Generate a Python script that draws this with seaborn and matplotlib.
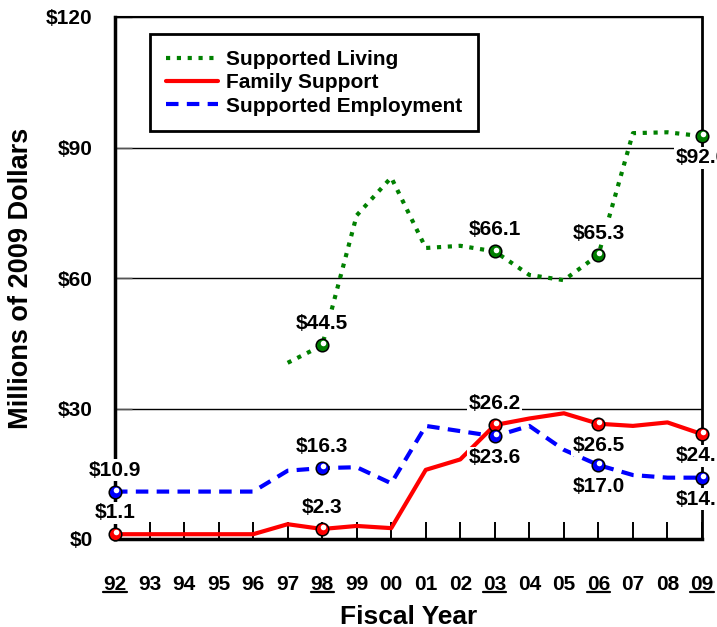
import matplotlib
matplotlib.use("Agg")
import matplotlib.pyplot as plt
import matplotlib.transforms as mtransforms
from matplotlib.lines import Line2D
import numpy as np
import pandas as pd
import seaborn as sns

# fiscal years shown on the x axis
years = ["92", "93", "94", "95", "96", "97", "98", "99", "00",
         "01", "02", "03", "04", "05", "06", "07", "08", "09"]
marked_years = ["92", "98", "03", "06", "09"]

# millions of 2009 dollars
supported_living = [np.nan, np.nan, np.nan, np.nan, np.nan, 40.5, 44.5, 74.4, 83.1,
                    66.9, 67.4, 66.1, 60.7, 59.5, 65.3, 93.3, 93.5, 92.6]
family_support = [1.1, 1.1, 1.1, 1.1, 1.1, 3.4, 2.3, 3.0, 2.5,
                  15.9, 18.3, 26.2, 27.7, 28.9, 26.5, 26.0, 26.8, 24.1]
supported_employment = [10.9, 10.9, 10.9, 10.9, 10.9, 15.7, 16.3, 16.5, 12.8,
                        26.0, 24.8, 23.6, 26.0, 20.5, 17.0, 14.7, 14.1, 14.1]

y_ticks = [0, 30, 60, 90, 120]

sns.set_style("white")
plt.rcParams["font.family"] = ["Liberation Sans", "DejaVu Sans"]
plt.rcParams["font.weight"] = "bold"
plt.rcParams["text.color"] = "black"
plt.rcParams["axes.labelcolor"] = "black"
plt.rcParams["xtick.color"] = "black"
plt.rcParams["ytick.color"] = "black"
plt.rcParams["xtick.bottom"] = True
plt.rcParams["ytick.left"] = True

df = pd.DataFrame({
    "year": years,
    "pos": range(len(years)),
    "Supported Living": supported_living,
    "Family Support": family_support,
    "Supported Employment": supported_employment,
})
marked = df[df["year"].isin(marked_years)]

# name, line colour, line style, label placement (+1 above / -1 below)
series = [
    ("Supported Living", "#008000", (0, (1, 1.6)),
     {"98": 1, "03": 1, "06": 1, "09": -1}),
    ("Family Support", "#ff0000", "-",
     {"92": 1, "98": 1, "03": 1, "06": -1, "09": -1}),
    ("Supported Employment", "#0000ff", (0, (3, 2)),
     {"92": 1, "98": 1, "03": -1, "06": -1, "09": -1}),
]

fig = plt.figure(figsize=(7.17, 6.27), dpi=100)
ax = fig.add_axes([115 / 717, 88 / 627, 587 / 717, 522 / 627])

shine = mtransforms.offset_copy(ax.transData, fig=fig, x=0.6, y=1.4, units="points")
handles = []
for name, color, ls, placement in series:
    sns.lineplot(data=df, x="pos", y=name, ax=ax, color=color, linestyle=ls,
                 linewidth=3, solid_capstyle="butt", dash_capstyle="butt", zorder=3)
    handles.append(Line2D([], [], color=color, linestyle=ls, linewidth=3,
                          dash_capstyle="butt", label=name))
    sns.scatterplot(data=marked, x="pos", y=name, ax=ax, color=color, edgecolor="black",
                    linewidth=1.1, s=82, zorder=7, clip_on=False, legend=False)
    sns.scatterplot(data=marked, x="pos", y=name, ax=ax, color="white", linewidth=0,
                    s=16, zorder=8, clip_on=False, legend=False, transform=shine)
    for yr, d in placement.items():
        row = df[df["year"] == yr].iloc[0]
        v = row[name]
        ax.annotate(f"${v:.1f}", xy=(row["pos"], v), xytext=(0, 15.5 * d),
                    textcoords="offset points", ha="center", va="center",
                    fontsize=15, fontweight="bold", zorder=6,
                    annotation_clip=False,
                    bbox=dict(fc="white", ec="none", pad=1))

ax.set_xlim(0, len(years) - 1)
ax.set_ylim(y_ticks[0], y_ticks[-1])
ax.set_xticks(range(len(years)))
ax.set_xticklabels(years)
ax.set_yticks(y_ticks)
ax.set_yticklabels([f"${t}" for t in y_ticks])
ax.tick_params(axis="x", which="major", direction="in", length=12, width=1.4,
               color="black", labelsize=15, labelcolor="black", bottom=True, pad=26)
ax.tick_params(axis="y", which="major", direction="in", length=12, width=1,
               color="#555555", labelsize=15, labelcolor="black", left=True, pad=16)
ax.grid(axis="y", color="black", linewidth=1)
ax.set_axisbelow(True)

ax.set_xlabel("Fiscal Year", fontsize=19, fontweight="bold", labelpad=8)
ax.set_ylabel("Millions of 2009 Dollars", fontsize=19.5, fontweight="bold", labelpad=9)

for side, w in {"left": 2.5, "bottom": 2.5, "right": 2, "top": 1.5}.items():
    ax.spines[side].set_visible(True)
    ax.spines[side].set_color("black")
    ax.spines[side].set_linewidth(w)

leg = ax.legend(handles=handles, loc="upper left", bbox_to_anchor=(0.06, 0.967),
                borderaxespad=0, frameon=True, fancybox=False, edgecolor="black",
                fontsize=15, handlelength=2.5, handletextpad=0.4, labelspacing=0.21,
                borderpad=0.75, framealpha=1)
leg.get_frame().set_linewidth(2)
leg.set_zorder(9)

# underline the highlighted years
fig.canvas.draw()
renderer = fig.canvas.get_renderer()
for lbl in ax.get_xticklabels():
    if lbl.get_text() in marked_years:
        bb = lbl.get_window_extent(renderer)
        y = bb.y0 + 2
        fig.add_artist(Line2D([bb.x0, bb.x1], [y, y], color="black", linewidth=1.6,
                              transform=mtransforms.IdentityTransform()))

fig.savefig("out.png", dpi=100)
